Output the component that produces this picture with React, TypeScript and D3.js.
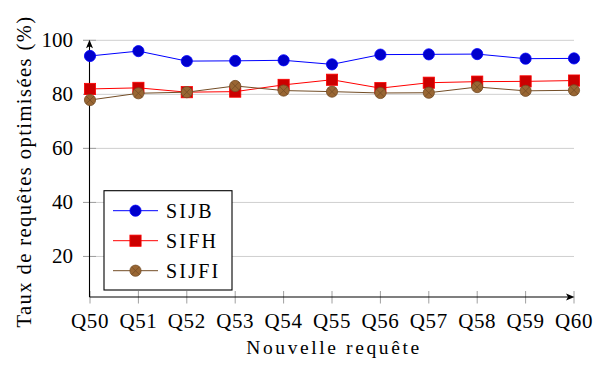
import React from "react";
import * as d3 from "d3";

const categories = ["Q50", "Q51", "Q52", "Q53", "Q54", "Q55", "Q56", "Q57", "Q58", "Q59", "Q60"];
const sijb = [94.2, 96.0, 92.3, 92.4, 92.6, 91.1, 94.7, 94.8, 94.9, 93.2, 93.3];
const sifh = [82.0, 82.4, 80.8, 81.0, 83.5, 85.4, 82.3, 84.3, 84.7, 84.8, 85.1];
const sijfi = [77.9, 80.4, 80.8, 83.1, 81.4, 81.0, 80.5, 80.6, 82.7, 81.3, 81.5];
const yTicks = [20, 40, 60, 80, 100];
const seriesNames = ["SIJB", "SIFH", "SIJFI"];

const W = 607;
const H = 369;
const SERIF = "Liberation Serif";

type Style = { line: string; fill: string; stroke: string; mark: "circle" | "square" | "otimes" };
const styles: Style[] = [
  { line: "#0000ff", fill: "#0000cc", stroke: "#0000ff", mark: "circle" },
  { line: "#ff0000", fill: "#cc0000", stroke: "#ff0000", mark: "square" },
  { line: "#734d26", fill: "#996633", stroke: "#734d26", mark: "otimes" },
];

function Marker({ x, y, s }: { x: number; y: number; s: Style }) {
  const r = 5.6;
  if (s.mark === "circle") {
    return <circle cx={x} cy={y} r={r} fill={s.fill} stroke={s.stroke} strokeWidth={0.8} />;
  }
  if (s.mark === "square") {
    return <rect x={x - r} y={y - r} width={2 * r} height={2 * r} fill={s.fill} stroke={s.stroke} strokeWidth={0.8} />;
  }
  const d = r * 0.707;
  return (
    <g>
      <circle cx={x} cy={y} r={r} fill={s.fill} stroke={s.stroke} strokeWidth={0.8} />
      <path d={`M${x - d},${y - d}L${x + d},${y + d}M${x - d},${y + d}L${x + d},${y - d}`} stroke={s.stroke} strokeWidth={0.8} />
    </g>
  );
}

export default function App() {
  const x0 = 90;
  const x1 = 574;
  const yTop = 40.3;
  const yBot = 297;
  const x = d3.scalePoint<string>().domain(categories).range([x0, x1]);
  const y = d3.scaleLinear().domain([5, 100]).range([yBot, yTop]);
  const allSeries = [sijb, sifh, sijfi];
  const line = d3
    .line<number>()
    .x((_, i) => x(categories[i]) as number)
    .y((v) => y(v));

  const legendRows = [210.7, 240.7, 270.7];

  return (
    <div style={{ position: "absolute", left: 0, top: 0, width: W, height: H, fontFamily: SERIF }}>
      <svg width={W} height={H} fontFamily={SERIF}>
        <rect x={0} y={0} width={W} height={H} fill="#fff" />
        {yTicks.map((t) => (
          <line key={"g" + t} x1={83} x2={x1} y1={y(t)} y2={y(t)} stroke="#cfcfcf" strokeWidth={1} />
        ))}
        {yTicks.map((t) => (
          <line key={"yt" + t} x1={83} x2={96} y1={y(t)} y2={y(t)} stroke="#a0a0a0" strokeWidth={1} />
        ))}
        {categories.map((c) => (
          <line key={"xt" + c} x1={x(c)} x2={x(c)} y1={291} y2={303.5} stroke="#a0a0a0" strokeWidth={1} />
        ))}
        <line x1={x0 - 0.5} x2={x0 - 0.5} y1={yBot} y2={yTop + 3} stroke="#000" strokeWidth={1.1} />
        <line x1={x0 - 0.5} x2={x1 - 3} y1={yBot} y2={yBot} stroke="#000" strokeWidth={1.1} />
        <path d={`M${x0 - 0.5},${yTop - 0.5}L${x0 - 4},${yTop + 8}L${x0 - 0.5},${yTop + 6}L${x0 + 3},${yTop + 8}Z`} fill="#000" />
        <path d={`M${x1 + 0.5},${yBot}L${x1 - 8},${yBot - 3.5}L${x1 - 6},${yBot}L${x1 - 8},${yBot + 3.5}Z`} fill="#000" />
        {yTicks.map((t) => (
          <text key={"yl" + t} x={73} y={y(t) + 7} textAnchor="end" fontSize={21} fontFamily={SERIF} fill="#000">
            {t}
          </text>
        ))}
        {categories.map((c) => (
          <text key={"xl" + c} x={x(c)} y={328} textAnchor="middle" fontSize={21} fontFamily={SERIF} letterSpacing={0.6} fill="#000">
            {c}
          </text>
        ))}
        <text x={334} y={354} textAnchor="middle" fontSize={19.5} fontFamily={SERIF} letterSpacing={2.6} fill="#000">
          Nouvelle requête
        </text>
        <text transform={`translate(31,171.5) rotate(-90)`} textAnchor="middle" fontSize={20.5} fontFamily={SERIF} letterSpacing={1.45} fill="#000">
          Taux de requêtes optimisées (%)
        </text>
        {allSeries.map((vals, si) => (
          <g key={"s" + si}>
            <path d={line(vals) || ""} fill="none" stroke={styles[si].line} strokeWidth={1} />
            {vals.map((v, i) => (
              <Marker key={i} x={x(categories[i]) as number} y={y(v)} s={styles[si]} />
            ))}
          </g>
        ))}
        <rect x={104} y={190.7} width={128} height={99.3} fill="#fff" stroke="#000" strokeWidth={1.1} />
        {seriesNames.map((n, i) => (
          <g key={"l" + n}>
            <line x1={113} x2={158} y1={legendRows[i]} y2={legendRows[i]} stroke={styles[i].line} strokeWidth={1} />
            <Marker x={135.5} y={legendRows[i]} s={styles[i]} />
            <text x={166} y={legendRows[i] + 7} fontSize={20} fontFamily={SERIF} letterSpacing={2.2} fill="#000">
              {n}
            </text>
          </g>
        ))}
      </svg>
    </div>
  );
}
